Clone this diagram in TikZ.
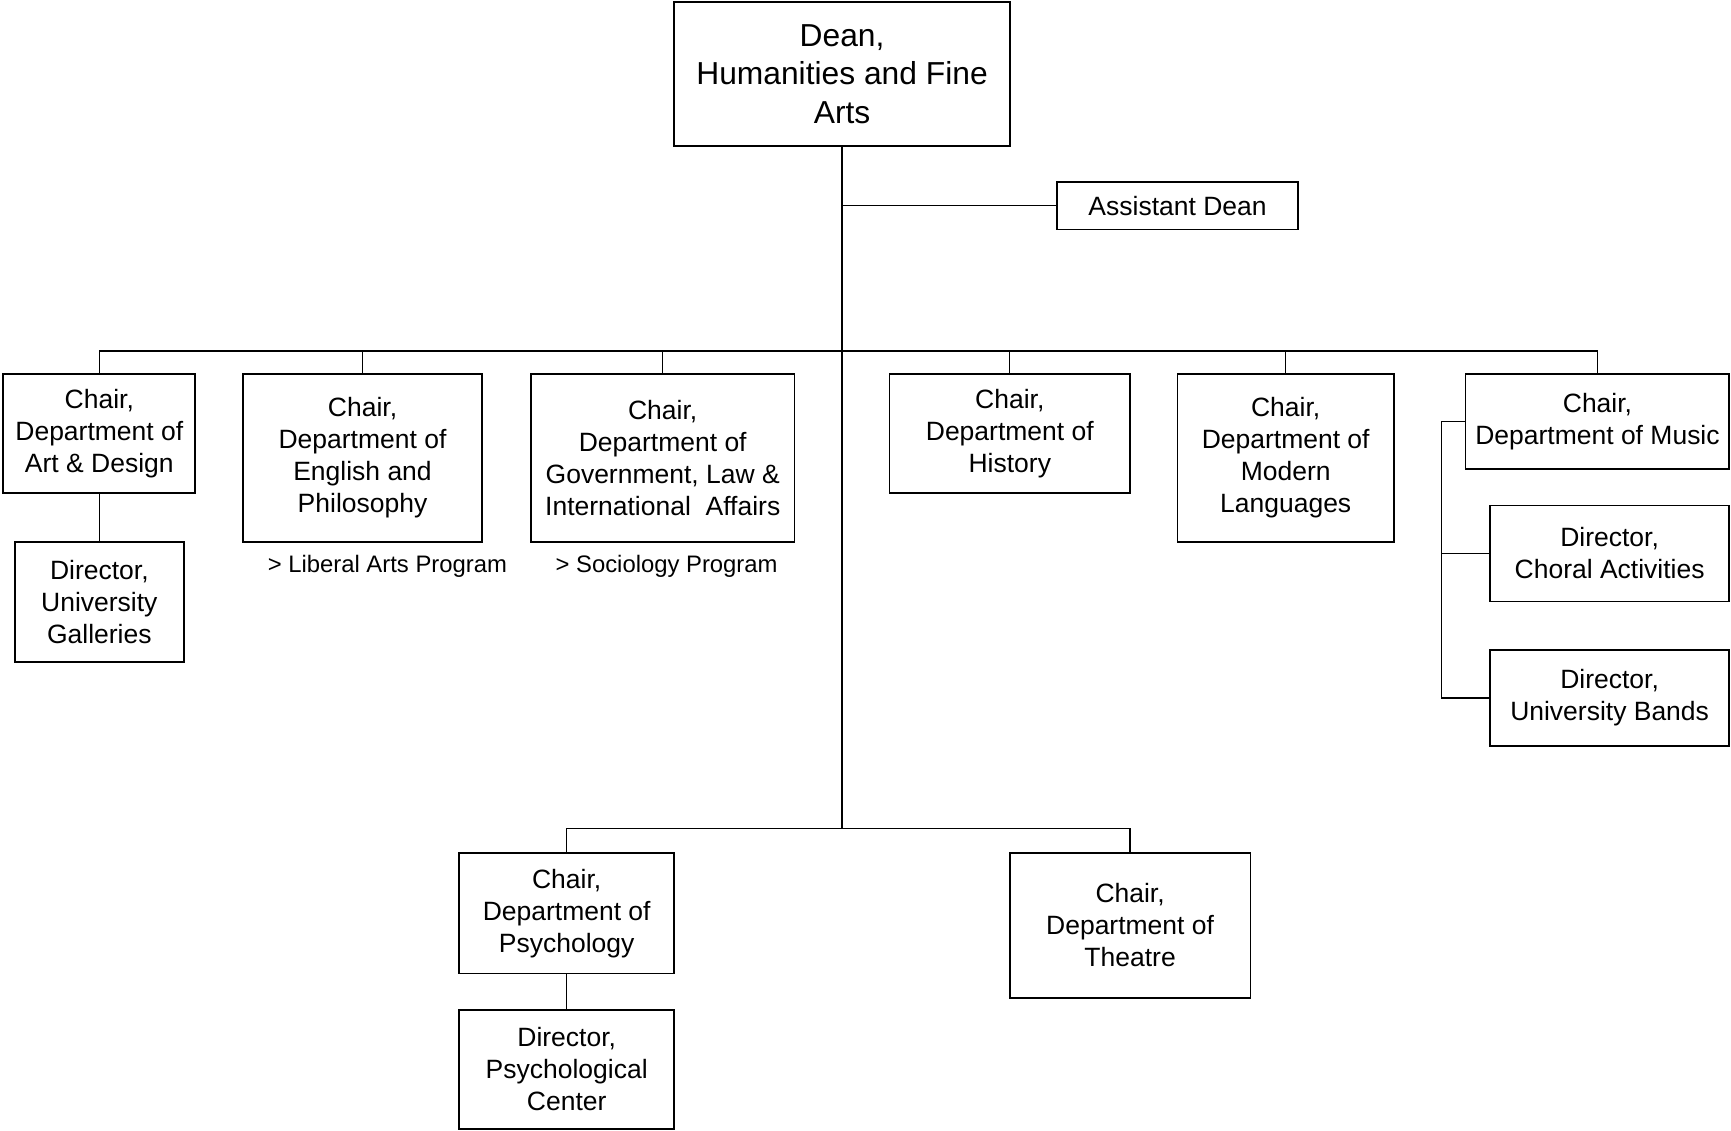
\documentclass[tikz,border=0pt]{standalone}
\usepackage{fontspec}
\setmainfont{Liberation Sans}
\usepackage{tikz}
\usetikzlibrary{positioning}

\tikzset{
	box/.style={draw, line width=0.8pt, align=center, inner sep=0pt, outer sep=0pt,
		font=\fontsize{12}{14.5}\selectfont},
	deanbox/.style={box, font=\fontsize{14.4}{17.5}\selectfont},
	note/.style={inner sep=0pt, font=\fontsize{10.8}{13}\selectfont},
	link/.style={line width=0.6pt},
	trunk/.style={line width=1.1pt}
}

\begin{document}
\begin{tikzpicture}[x=0.5pt,y=-0.5pt]
	\useasboundingbox (0,0) rectangle (1568.5,1024);

	\node[deanbox, minimum width=152pt, minimum height=65pt] (dean) at (763,67) {Dean,\\Humanities and Fine\\Arts};
	\node[box, minimum width=109pt, minimum height=21.5pt] (asst) at (1067,186.5) {Assistant Dean};

	\node[box, minimum width=87pt, minimum height=54pt] (art) at (90,393) {Chair,\\Department of\\Art \& Design};
	\node[box, minimum width=76.5pt, minimum height=54.5pt] (gal) [below = 22pt of art] {Director,\\University\\Galleries};
	\node[box, minimum width=108.5pt, minimum height=76pt] (eng) at (328.5,415) {Chair,\\Department of\\English and\\Philosophy};
	\node[box, minimum width=119.5pt, minimum height=76pt] (gov) at (600.5,415) {Chair,\\Department of\\Government, Law \&\\International\ \ Affairs};
	\node[box, minimum width=109pt, minimum height=54pt] (hist) at (915,393) {Chair,\\Department of\\History};
	\node[box, minimum width=98pt, minimum height=76pt] (lang) at (1165,415) {Chair,\\Department of\\Modern\\Languages};
	\node[box, minimum width=119.5pt, minimum height=43pt] (music) at (1447.5,382) {Chair,\\Department of Music};
	\node[box, minimum width=108.5pt, minimum height=43.5pt] (choral) at (1458.5,501.5) {Director,\\Choral Activities};
	\node[box, minimum width=108.5pt, minimum height=43.5pt] (bands) [below = 22pt of choral] {Director,\\University Bands};

	\node[note] (libarts) at (351,513) {> Liberal Arts Program};
	\node[note] (socio) at (604,513) {> Sociology Program};

	\node[box, minimum width=97.5pt, minimum height=54.5pt] (psych) at (513.5,827.5) {Chair,\\Department of\\Psychology};
	\node[box, minimum width=97.5pt, minimum height=54pt] (pcenter) [below = 16.5pt of psych] {Director,\\Psychological\\Center};
	\node[box, minimum width=109pt, minimum height=65.5pt] (theatre) at (1024,838.5) {Chair,\\Department of\\Theatre};

	\coordinate (top) at (763,318);
	\coordinate (low) at (763,751);
	\coordinate (spine) at (1306,382);

	\draw[trunk] (dean.south) -- (low);
	\draw[link] (asst.west) -- (asst.west -| dean.south);
	\foreach \n in {art,eng,gov,hist,lang,music}
		\draw[link] (\n.north) |- (top);
	\foreach \n in {psych,theatre}
		\draw[link] (\n.north) |- (low);
	\draw[link] (art.south) -- (art.south |- gal.north);
	\draw[link] (psych.south) -- (pcenter.north);
	\draw[link] (music.west) -- (spine) |- (bands.west);
	\draw[link] (choral.west) -- (choral.west -| spine);
\end{tikzpicture}
\end{document}
